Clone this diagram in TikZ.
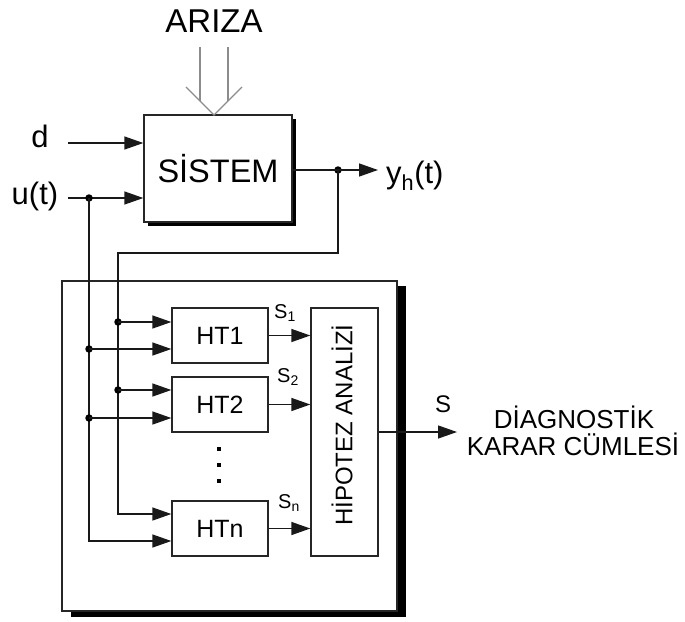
\documentclass[tikz,border=0pt]{standalone}
\usepackage{fontspec}
\setmainfont{Liberation Sans}
\usetikzlibrary{arrows.meta}
\begin{document}
\begin{tikzpicture}[x=1pt,y=-1pt,
  line/.style={line width=1.3pt, draw=black!90},
  arr/.style={line, -{Triangle[length=19pt,width=13pt]}},
  blk/.style={draw=black!85, line width=1.3pt, fill=white, minimum width=96pt, minimum height=55pt, inner sep=0pt, font=\fontsize{25}{28}\selectfont},
  jdot/.style={circle, fill=black, inner sep=0pt, minimum size=7.5pt},
  sdot/.style={rectangle, fill=black, inner sep=0pt, minimum size=4.5pt},
  lbl/.style={font=\fontsize{31}{36}\selectfont, inner sep=0pt},
  slbl/.style={font=\fontsize{20}{24}\selectfont, inner sep=0pt, anchor=base west},
  gline/.style={line width=1.2pt, draw=black!45}]
\useasboundingbox (0,0) rectangle (685,621);

% outer frame with shadow
\fill (71,286) rectangle (406,617);
\node[draw=black!85, line width=1.3pt, fill=white, minimum width=335pt, minimum height=330pt, inner sep=0pt] (frame) at (229.5,446) {};

% system block with shadow
\fill (148,119) rectangle (296,226);
\node[draw=black!85, line width=1.3pt, fill=white, minimum width=148pt, minimum height=107pt, inner sep=0pt, font=\fontsize{32.5}{36}\selectfont] (sys) at (218,168.5) {SİSTEM};

% ARIZA input (double arrow)
\node[font=\fontsize{33}{36}\selectfont, inner sep=0pt] (ariza) at (214,21) {ARIZA};
\draw[gline] (200,47) -- (200,101);
\draw[gline] (228,47) -- (228,101);
\draw[gline] (186,87) -- (214,115) -- (242,87);

% inputs
\node[lbl, anchor=base] (d) at (40,147) {d};
\node[lbl, anchor=base] (u) at (35,204) {u(t)};
\coordinate (dstart) at (68,143);
\coordinate (ustart) at (68,198);
\draw[arr] (dstart) -- (dstart -| sys.west);
\draw[arr] (ustart) -- (ustart -| sys.west);
\node[jdot] (ju) at (89,198) {};

% output
\coordinate (yrow) at (0,170);
\node[jdot] (jy) at (338,170) {};
\coordinate (yend) at (378,170);
\draw[line] (sys.east |- yrow) -- (jy.center);
\draw[arr] (jy.center) -- (yend);
\node[lbl, anchor=base west] (yh) at (386,183) {y\textsubscript{h}(t)};

% HT blocks
\node[blk] (ht1) at (220,335.5) {HT1};
\node[blk] (ht2) at (220,404.5) {HT2};
\node[blk] (htn) at (220,528.5) {HTn};
\node[sdot] (e1) at (219,449) {};
\node[sdot] (e2) at (219,465) {};
\node[sdot] (e3) at (219,481) {};

% hypothesis analysis block
\node[draw=black!85, line width=1.3pt, fill=white, minimum width=67pt, minimum height=248pt, inner sep=0pt] (ha) at (344.5,432) {};
\node[rotate=90, font=\fontsize{24}{28}\selectfont, inner sep=0pt] (hatext) at (342,425) {HİPOTEZ ANALİZİ};

% feedback of y and u lines
\coordinate (fb1) at (338,253);
\coordinate (fb2) at (118,253);
\coordinate (n1) at (118,514);
\coordinate (n2) at (89,541);
\draw[arr] (jy.center) -- (fb1) -- (fb2) -- (n1) -- (n1 -| htn.west);
\draw[arr] (ju.center) -- (n2) -- (n2 -| htn.west);

\node[jdot] (a1) at (118,322) {};
\node[jdot] (b1) at (89,349) {};
\node[jdot] (a2) at (118,390) {};
\node[jdot] (b2) at (89,418) {};
\draw[arr] (a1.center) -- (a1 -| ht1.west);
\draw[arr] (b1.center) -- (b1 -| ht1.west);
\draw[arr] (a2.center) -- (a2 -| ht2.west);
\draw[arr] (b2.center) -- (b2 -| ht2.west);

% HT outputs
\draw[arr] (ht1.east) -- (ht1.east -| ha.west);
\draw[arr] (ht2.east) -- (ht2.east -| ha.west);
\draw[arr] (htn.east) -- (htn.east -| ha.west);
\node[slbl] (s1) at (274,318) {S\textsubscript{1}};
\node[slbl] (s2) at (277,382) {S\textsubscript{2}};
\node[slbl] (sn) at (278,508) {S\textsubscript{n}};

% final output
\coordinate (send) at (457,432);
\draw[arr] (ha.east) -- (send);
\node[font=\fontsize{24}{26}\selectfont, inner sep=0pt] (s) at (443,404) {S};
\node[font=\fontsize{26}{28}\selectfont, inner sep=0pt, anchor=base] (diag1) at (574,428) {DİAGNOSTİK};
\node[font=\fontsize{26}{28}\selectfont, inner sep=0pt, anchor=base] (diag2) at (573,455) {KARAR CÜMLESİ};
\end{tikzpicture}
\end{document}
